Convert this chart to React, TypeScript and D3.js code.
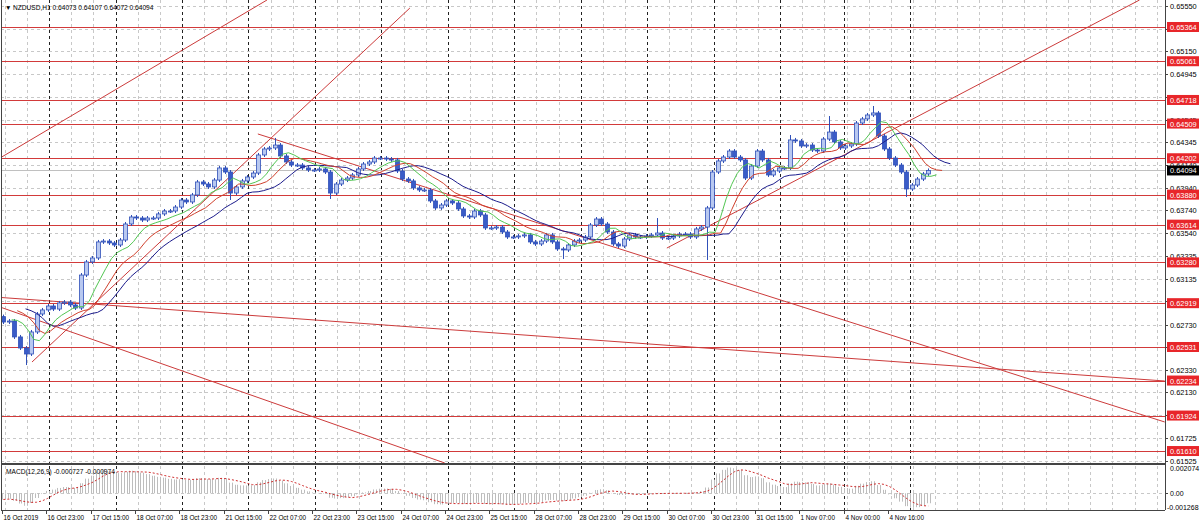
import React from 'react';
import * as d3 from 'd3';

// ---------- DATA ----------
// 2-hour candle closes (NZDUSD H1, 16 Oct 07:00 -> 5 Nov 07:00)
const closes = [
  0.62752, 0.62761, 0.62620, 0.62522, 0.62469, 0.62664, 0.62823, 0.62859, 0.62894, 0.62867,
  0.62921, 0.62929, 0.62903, 0.62876, 0.63168, 0.63284, 0.63319, 0.63461, 0.63469, 0.63452,
  0.63434, 0.63478, 0.63620, 0.63682, 0.63673, 0.63655, 0.63673, 0.63673, 0.63709, 0.63735,
  0.63735, 0.63770, 0.63832, 0.63815, 0.63877, 0.63992, 0.63974, 0.63948, 0.64009, 0.64116,
  0.64080, 0.63894, 0.63948, 0.64001, 0.64036, 0.64071, 0.64231, 0.64284, 0.64293, 0.64319,
  0.64222, 0.64169, 0.64142, 0.64142, 0.64116, 0.64098, 0.64098, 0.64107, 0.64080, 0.63894,
  0.63974, 0.64009, 0.64027, 0.64054, 0.64107, 0.64151, 0.64169, 0.64204, 0.64204, 0.64195,
  0.64187, 0.64089, 0.64018, 0.64001, 0.63939, 0.63921, 0.63921, 0.63824, 0.63762, 0.63788,
  0.63824, 0.63806, 0.63753, 0.63691, 0.63682, 0.63735, 0.63700, 0.63585, 0.63585, 0.63593,
  0.63549, 0.63505, 0.63505, 0.63514, 0.63523, 0.63461, 0.63443, 0.63469, 0.63523, 0.63461,
  0.63399, 0.63390, 0.63434, 0.63469, 0.63478, 0.63505, 0.63611, 0.63664, 0.63620, 0.63549,
  0.63443, 0.63425, 0.63487, 0.63523, 0.63505, 0.63505, 0.63514, 0.63523, 0.63540, 0.63496,
  0.63496, 0.63514, 0.63531, 0.63531, 0.63505, 0.63576, 0.63593, 0.63762, 0.64080, 0.64178,
  0.64213, 0.64266, 0.64213, 0.64187, 0.64027, 0.64133, 0.64266, 0.64187, 0.64054, 0.64089,
  0.64116, 0.64116, 0.64364, 0.64355, 0.64311, 0.64319, 0.64275, 0.64266, 0.64372, 0.64434,
  0.64346, 0.64293, 0.64311, 0.64328, 0.64514, 0.64550, 0.64585, 0.64603, 0.64399, 0.64284,
  0.64204, 0.64142, 0.64080, 0.63930, 0.63965, 0.64018, 0.64063, 0.64094,
];
const firstOpen = 0.628;
// notable wick extremes: [candle index, price]
const wickHighs: [number, number][] = [[49, 0.64364], [118, 0.63655], [149, 0.64558], [157, 0.64647], [142, 0.6439]];
const wickLows: [number, number][] = [[4, 0.62389], [41, 0.6385], [59, 0.63859], [101, 0.63328], [127, 0.63319], [163, 0.63877]];

// Alligator start values at left edge
const jawStart = 0.62885;
const teethStart = 0.62876;
const lipsStart = 0.6277;
// MACD EMA start values
const ema12Start = 0.6278;
const ema26Start = 0.6283;

const priceTicks = [
  0.6555, 0.6535, 0.6515, 0.64945, 0.64745, 0.64545, 0.64345, 0.6414, 0.6394, 0.6374, 0.6354,
  0.63335, 0.63135, 0.62935, 0.6273, 0.6253, 0.6233, 0.6213, 0.61925, 0.61725, 0.61525,
];
const levels = [
  0.65364, 0.65061, 0.64718, 0.64509, 0.64202, 0.6388, 0.63614, 0.6328, 0.62919, 0.62531,
  0.62234, 0.61924, 0.6161,
];
const lastPrice = 0.64094;

const timeLabels = [
  '16 Oct 2019', '16 Oct 23:00', '17 Oct 15:00', '18 Oct 07:00', '18 Oct 23:00', '21 Oct 15:00',
  '22 Oct 07:00', '22 Oct 23:00', '23 Oct 15:00', '24 Oct 07:00', '24 Oct 23:00', '25 Oct 15:00',
  '28 Oct 07:00', '28 Oct 23:00', '29 Oct 15:00', '30 Oct 07:00', '30 Oct 23:00', '31 Oct 15:00',
  '1 Nov 07:00', '4 Nov 00:00', '4 Nov 16:00',
];
// bar (hour) index of midnight day separators
const daySeparators = [17, 41, 65, 89, 113, 137, 161, 185, 209, 233, 257, 281, 304, 328];

// trendlines: [hour, price] -> [hour, price]
const trendLines: [[number, number], [number, number]][] = [
  [[-0.72, 0.64204], [95.7, 0.65603]],
  [[10.83, 0.62398], [147.3, 0.65532]],
  [[-0.72, 0.6297], [419.9, 0.6223]],
  [[-0.72, 0.62885], [159.9, 0.61504]],
  [[92.4, 0.64417], [419.9, 0.61867]],
  [[240.1, 0.63407], [410.8, 0.65603]],
];

const macdMax = 0.002074;
const macdMin = -0.001268;

// ---------- LAYOUT ----------
const W = 1200;
const H = 529;
const L = 1;
const R = 1165;
const MAIN_B = 463;
const MACD_T = 466;
const MACD_B = 510;
const FONT = "'Liberation Sans', Arial, sans-serif";

export default function App() {
  const xS = d3.scaleLinear().domain([-0.36, 420]).range([L, R]);
  const yS = d3.scaleLinear().domain([0.65603, 0.61504]).range([0, MAIN_B]);
  const yM = d3.scaleLinear().domain([macdMin, macdMax]).range([MACD_B, MACD_T]).clamp(true);

  const hiMap = new Map(wickHighs);
  const loMap = new Map(wickLows);
  const candles = closes.map((c, i) => {
    const o = i === 0 ? firstOpen : closes[i - 1];
    const h = Math.max(o, c, hiMap.get(i) ?? -1);
    const l = Math.min(o, c, loMap.get(i) ?? 9);
    return { i, o, c, h, l, hour: 2 * i + 0.5 };
  });

  // Alligator (SMMA of median price, hourly periods applied to 2h candles)
  const smma = (N: number, start: number) => {
    const a = 1 - Math.pow(1 - 1 / N, 2);
    let v = start;
    return candles.map((d) => {
      v = v + ((d.h + d.l) / 2 - v) * a;
      return v;
    });
  };
  const jaw = smma(13, jawStart);
  const teeth = smma(8, teethStart);
  const lips = smma(5, lipsStart);

  const ema = (N: number, start: number) => {
    const al = 2 / (N + 1);
    const a = 1 - Math.pow(1 - al, 2);
    let v = start;
    return candles.map((d) => {
      v = v + (d.c - v) * a;
      return v;
    });
  };
  const e12 = ema(12, ema12Start);
  const e26 = ema(26, ema26Start);
  const macd = e12.map((v, i) => v - e26[i]);
  const signal = macd.map((_, i) => d3.mean(macd.slice(Math.max(0, i - 4), i + 1)) as number);

  const maLine = (vals: number[], shift: number) =>
    d3
      .line<number>()
      .x((_, i) => xS(candles[i].hour + shift))
      .y((v) => yS(v))(vals) as string;

  const sigLine = d3
    .line<number>()
    .x((_, i) => xS(candles[i].hour))
    .y((v) => yM(v))(signal) as string;

  const gridHours = d3.range(1, 420, 8);
  const fmt = d3.format('.5f');
  const boxes = [...levels, lastPrice];
  // tick labels fully hidden behind a label box are not drawn
  const visibleTicks = priceTicks.filter((p) => !boxes.some((b) => Math.abs(yS(b) - yS(p)) < 3));

  return (
    <div style={{ position: 'absolute', left: 0, top: 0, width: W, height: H, background: '#fff' }}>
      <svg width={W} height={H} style={{ display: 'block', fontFamily: FONT }}>
        <defs>
          <clipPath id="mainClip">
            <rect x={L} y={0} width={R - L} height={MAIN_B} />
          </clipPath>
          <clipPath id="macdClip">
            <rect x={L} y={MACD_T - 1} width={R - L} height={MACD_B - MACD_T + 1} />
          </clipPath>
        </defs>
        <rect x={0} y={0} width={W} height={H} fill="#fff" />

        {/* grid main */}
        <g clipPath="url(#mainClip)">
          {gridHours.map((h) => (
            <line key={'gv' + h} x1={Math.round(xS(h)) + 0.5} x2={Math.round(xS(h)) + 0.5} y1={0} y2={MAIN_B} stroke="#c8c8c8" strokeDasharray="3,3" />
          ))}
          {priceTicks.map((p) => (
            <line key={'gh' + p} x1={L} x2={R} y1={Math.round(yS(p)) + 0.5} y2={Math.round(yS(p)) + 0.5} stroke="#c8c8c8" strokeDasharray="3,3" />
          ))}
          {daySeparators.map((h) => (
            <line key={'ds' + h} x1={Math.round(xS(h)) + 0.5} x2={Math.round(xS(h)) + 0.5} y1={0} y2={MAIN_B} stroke="#222" strokeDasharray="3,3" />
          ))}
          {/* levels */}
          {levels.map((p) => (
            <line key={'lv' + p} x1={L} x2={R} y1={Math.round(yS(p)) + 0.5} y2={Math.round(yS(p)) + 0.5} stroke="#d23a3a" strokeWidth={1.2} />
          ))}
          <line x1={L} x2={R} y1={Math.round(yS(lastPrice)) + 0.5} y2={Math.round(yS(lastPrice)) + 0.5} stroke="#c0c0c0" />
          {/* trendlines */}
          {trendLines.map((t, i) => (
            <line key={'tl' + i} x1={xS(t[0][0])} y1={yS(t[0][1])} x2={xS(t[1][0])} y2={yS(t[1][1])} stroke="#cc3b3b" strokeWidth={1} />
          ))}
          {/* candles */}
          {candles.map((d) => {
            const x = Math.round(xS(d.hour));
            const yo = yS(d.o);
            const yc = yS(d.c);
            const top = Math.min(yo, yc);
            const bh = Math.max(1, Math.abs(yo - yc));
            const up = d.c >= d.o;
            return (
              <g key={'c' + d.i}>
                <line x1={x + 0.5} x2={x + 0.5} y1={yS(d.h) - 2} y2={yS(d.l) + 2} stroke="#3050b8" />
                <rect x={x - 1.5} y={top} width={4} height={bh} fill={up ? '#b8c8f0' : '#3a5cc8'} stroke="#3050b8" strokeWidth={0.8} />
              </g>
            );
          })}
          {/* alligator */}
          <path d={maLine(jaw, 8)} fill="none" stroke="#1c1c8c" strokeWidth={1} />
          <path d={maLine(teeth, 5)} fill="none" stroke="#d0402c" strokeWidth={1} />
          <path d={maLine(lips, 3)} fill="none" stroke="#52c652" strokeWidth={1} />
        </g>

        {/* header */}
        <text x={5} y={10} fontSize={6.5} fill="#000">▼</text>
        <text x={13} y={10} fontSize={6.6} fill="#000">NZDUSD,H1  0.64073 0.64107 0.64072 0.64094</text>

        {/* MACD panel */}
        <g clipPath="url(#macdClip)">
          {gridHours.map((h) => (
            <line key={'mgv' + h} x1={Math.round(xS(h)) + 0.5} x2={Math.round(xS(h)) + 0.5} y1={MACD_T} y2={MACD_B} stroke="#c8c8c8" strokeDasharray="3,3" />
          ))}
          {daySeparators.map((h) => (
            <line key={'mds' + h} x1={Math.round(xS(h)) + 0.5} x2={Math.round(xS(h)) + 0.5} y1={MACD_T} y2={MACD_B} stroke="#222" strokeDasharray="3,3" />
          ))}
          <line x1={L} x2={R} y1={Math.round(yM(0)) + 0.5} y2={Math.round(yM(0)) + 0.5} stroke="#c8c8c8" strokeDasharray="3,3" />
          {candles.map((d, i) =>
            [0, 1].map((s) => {
              const x = Math.round(xS(2 * d.i + s)) + 0.5;
              return <line key={'mh' + i + '_' + s} x1={x} x2={x} y1={yM(0)} y2={yM(macd[i])} stroke="#bdbdbd" />;
            })
          )}
          <path d={sigLine} fill="none" stroke="#d03030" strokeDasharray="2,2" />
        </g>
        <text x={6} y={474} fontSize={6.6} fill="#000">MACD(12,26,9) -0.000727 -0.000974</text>

        {/* frames */}
        <line x1={L + 0.5} x2={L + 0.5} y1={0} y2={MACD_B} stroke="#444" />
        <line x1={R + 0.5} x2={R + 0.5} y1={0} y2={MACD_B} stroke="#444" />
        <line x1={L} x2={R} y1={MAIN_B + 1} y2={MAIN_B + 1} stroke="#444" strokeWidth={2} />
        <line x1={L} x2={R} y1={MACD_B + 0.5} y2={MACD_B + 0.5} stroke="#444" />

        {/* price axis */}
        {priceTicks.map((p) => (
          <line key={'ptk' + p} x1={R} x2={R + 3} y1={Math.round(yS(p)) + 0.5} y2={Math.round(yS(p)) + 0.5} stroke="#444" />
        ))}
        {visibleTicks.map((p) => (
          <text key={'pt' + p} x={R + 5} y={yS(p) + 3} fontSize={7.4} fill="#000">{fmt(p)}</text>
        ))}
        {levels.map((p) => (
          <g key={'lb' + p}>
            <rect x={R + 2} y={yS(p) - 5} width={W - R - 3} height={10} fill="#e8262a" />
            <text x={R + 5} y={yS(p) + 3} fontSize={7.4} fill="#fff">{fmt(p)}</text>
          </g>
        ))}
        <rect x={R + 2} y={yS(lastPrice) - 5} width={W - R - 3} height={10} fill="#000" />
        <text x={R + 5} y={yS(lastPrice) + 3} fontSize={7.4} fill="#fff">{fmt(lastPrice)}</text>

        {/* macd axis */}
        <text x={R + 5} y={MACD_T + 5} fontSize={7} fill="#000">{macdMax.toFixed(6)}</text>
        <text x={R + 5} y={yM(0) + 3} fontSize={7} fill="#000">0.00</text>
        <line x1={R} x2={R + 3} y1={Math.round(yM(0)) + 0.5} y2={Math.round(yM(0)) + 0.5} stroke="#444" />
        <text x={R + 2} y={MACD_B} fontSize={7} fill="#000">{macdMin.toFixed(6)}</text>

        {/* time axis */}
        {timeLabels.map((t, i) => {
          const x = Math.round(xS(16 * i)) + 0.5;
          return (
            <g key={'tl' + i}>
              <line x1={x} x2={x} y1={MACD_B} y2={MACD_B + 4} stroke="#444" />
              <text x={x + 1} y={MACD_B + 10} fontSize={6.4} fill="#000">{t}</text>
            </g>
          );
        })}
      </svg>
    </div>
  );
}
